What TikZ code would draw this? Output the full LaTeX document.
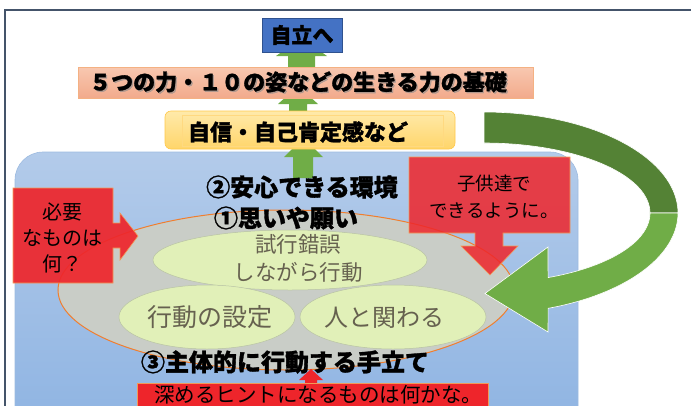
\documentclass[tikz,border=0pt]{standalone}
\usepackage{fontspec}
\newfontfamily\jp{Noto Sans CJK JP}
\newfontfamily\jpH{Noto Sans CJK JP}[FakeBold=1.3]
\usetikzlibrary{shapes.geometric}
\definecolor{frameC}{HTML}{44546A}
\definecolor{blueT}{HTML}{B3CBEA}
\definecolor{blueB}{HTML}{8DB3E2}
\definecolor{blueE}{HTML}{9DBBE0}
\definecolor{boxBlue}{HTML}{4472C4}
\definecolor{boxBlueE}{HTML}{2F528F}
\definecolor{salT}{HTML}{F8C8B0}
\definecolor{salB}{HTML}{F2AA8C}
\definecolor{salE}{HTML}{F4B183}
\definecolor{yelT}{HTML}{FFEAAA}
\definecolor{yelB}{HTML}{FFD56A}
\definecolor{yelE}{HTML}{FFC84A}
\definecolor{arrG}{HTML}{70AD47}
\definecolor{arrGD}{HTML}{548235}
\definecolor{redC}{HTML}{EE252B}
\definecolor{redE}{HTML}{F19A58}
\definecolor{grayF}{HTML}{C9CDC7}
\definecolor{ovalE}{HTML}{F07E2F}
\definecolor{lgF}{HTML}{E1F0B8}
\definecolor{lgE}{HTML}{B9C3A5}
\definecolor{ovalT}{HTML}{66614F}
\tikzset{
  greenarr/.style={fill=arrG},
  redshape/.style={fill=redC, draw=redE, line width=0.6pt},
  headtext/.style={font=\jpH\bfseries\fontsize{24}{28}\selectfont, text=black, inner sep=0pt},
  boxtext/.style={font=\jpH\bfseries\fontsize{22}{26}\selectfont, text=black, inner sep=0pt},
  redtext/.style={font=\jp\fontsize{20}{26}\selectfont, text=black, align=center, inner sep=0pt},
  ovaltext/.style={font=\jp\fontsize{22}{28}\selectfont, text=ovalT, align=center, inner sep=0pt},
  lgoval/.style={ellipse, fill=lgF, draw=lgE, line width=0.5pt, inner sep=0pt},
}
\begin{document}
\begin{tikzpicture}[x=1pt,y=-1pt]
\useasboundingbox (0,0) rectangle (691,405);
\clip (0,0) rectangle (691,405);
% frame
\draw[frameC, line width=1.6pt] (5,420) -- (5,10) -- (700,10);
% big blue area
\path[top color=blueT, bottom color=blueB, draw=blueE, line width=0.6pt, rounded corners=28pt] (15,152) rectangle (578,440);
% small green up arrows
\fill[greenarr] (288,70) -- (288,56) -- (276,56) -- (301.5,38) -- (327,56) -- (315,56) -- (315,70) -- cycle;
\fill[greenarr] (289,115) -- (289,104) -- (278,104) -- (298,86) -- (318,104) -- (307,104) -- (307,115) -- cycle;
\fill[greenarr] (293,178) -- (293,157) -- (284,157) -- (303.5,138) -- (323,157) -- (313,157) -- (313,178) -- cycle;
% top boxes
\node[fill=boxBlue, draw=boxBlueE, line width=0.5pt, minimum width=80pt, minimum height=34pt, inner sep=0pt] (jiritsu) at (302,35) {};
\node[boxtext, font=\jpH\bfseries\fontsize{21}{24}\selectfont] (jiritsuT) at (302,35) {自立へ};
\node[top color=salT, bottom color=salB, draw=salE, line width=0.6pt, minimum width=455pt, minimum height=31pt, inner sep=0pt] (kiso) at (305.5,82.5) {};
\node[boxtext, text=black!45, opacity=0.6] (kisoS) at (299.3,83.3) {５つの力・１０の姿などの生きる力の基礎};
\node[boxtext] (kisoT) at (298,82) {５つの力・１０の姿などの生きる力の基礎};
\node[top color=yelT, bottom color=yelB, draw=yelE, line width=0.6pt, rounded corners=6pt, minimum width=290pt, minimum height=38pt, inner sep=0pt] (jishin) at (310,130) {};
\node[draw=yelE!70, line width=0.5pt, minimum width=261pt, minimum height=31pt, inner sep=0pt] (jishinIn) at (312.5,130.5) {};
\node[boxtext] (jishinT) at (298,132) {自信・自己肯定感など};
% gray oval
\node[ellipse, fill=grayF, draw=ovalE, line width=1pt, minimum width=456pt, minimum height=160pt, inner sep=0pt] (oval) at (286,290) {};
% light green ovals
\node[lgoval, minimum width=274pt, minimum height=60pt] (e1) at (290,260) {};
\node[lgoval, minimum width=176pt, minimum height=64pt] (e2) at (207,317) {};
\node[lgoval, minimum width=186pt, minimum height=64pt] (e3) at (393,317) {};
\node[ovaltext, font=\jp\fontsize{21.5}{28}\selectfont] (e1T) at (298,258) {試行錯誤\\しながら行動};
\node[ovaltext, font=\jp\fontsize{25}{28}\selectfont] (e2T) at (210,317) {行動の設定};
\node[ovaltext, font=\jp\fontsize{24}{28}\selectfont] (e3T) at (384,318) {人と関わる};
% headings
\node[headtext] (h2) at (302,187) {②安心できる環境};
\node[headtext] (h1) at (286,218) {①思いや願い};
\node[headtext] (h3) at (285,362) {③主体的に行動する手立て};
% left red callout
\path[redshape, fill opacity=0.92] (13,188) -- (113,188) -- (113,223) -- (120,223) -- (120,213) -- (138,236) -- (120,260) -- (120,248) -- (113,248) -- (113,283) -- (13,283) -- cycle;
\node[redtext] (leftT) at (63,238) {必要\\なものは\\何？};
% right red callout
\path[redshape, fill opacity=0.85] (409,157) -- (570,157) -- (570,233) -- (503,233) -- (503,246) -- (518,246) -- (490,275) -- (461,246) -- (475,246) -- (475,233) -- (409,233) -- cycle;
\node[redtext, font=\jp\fontsize{18.5}{27}\selectfont] (rightT) at (494,197) {子供達で\\できるように。};
% big curved green arrow
\fill[arrGD, draw=white, line width=0.6pt] (484,112) -- plot[domain=-90:0, samples=50] ({484+194*cos(\x)},{213+101*sin(\x)}) -- plot[domain=0:-90, samples=50] ({484+166*cos(\x)},{213+70*sin(\x)}) -- cycle;
\fill[arrG, draw=white, line width=0.6pt] (678,213) -- plot[domain=0:70.7, samples=50] ({484+194*cos(\x)},{213+101*sin(\x)}) -- (548,332) -- (485,293.5) -- (548,247) -- plot[domain=67.3:0, samples=50] ({484+166*cos(\x)},{213+70*sin(\x)}) -- cycle;
% bottom red arrow and box
\fill[redC] (305,386) -- (305,380) -- (299,380) -- (311,369) -- (323,380) -- (317,380) -- (317,386) -- cycle;
\node[fill=redC, draw=redE, line width=0.6pt, minimum width=351pt, minimum height=40pt, inner sep=0pt] (hint) at (312.5,403) {};
\node[redtext, font=\jp\fontsize{20.5}{24}\selectfont] (hintT) at (318,395) {深めるヒントになるものは何かな。};
\end{tikzpicture}
\end{document}
